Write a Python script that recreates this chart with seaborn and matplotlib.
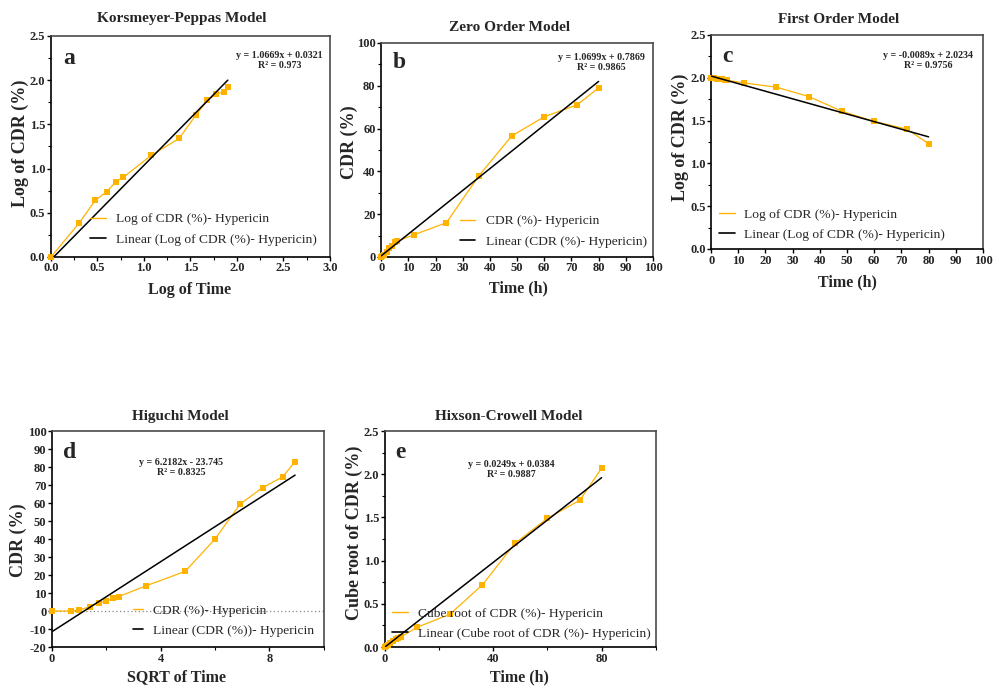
import numpy as np
import pandas as pd
import matplotlib
matplotlib.use("Agg")
import matplotlib.pyplot as plt
from matplotlib.lines import Line2D
from matplotlib.ticker import MultipleLocator, FormatStrFormatter
import seaborn as sns

# ---------------- data ----------------
time_h = [0, 0.5, 1, 2, 3, 4, 5, 6, 12, 24, 36, 48, 60, 72, 80]

# a: Korsmeyer-Peppas
kp_logt = [0.0, 0.301, 0.477, 0.602, 0.699, 0.778, 1.079, 1.380, 1.556, 1.681, 1.778, 1.857, 1.903]
kp_logcdr = [0.0, 0.38, 0.64, 0.74, 0.85, 0.90, 1.15, 1.34, 1.60, 1.77, 1.84, 1.87, 1.92]
kp_fit_x = [0.03, 1.903]
kp_fit_y = [0.0, 2.0]

# b: Zero order
zo_cdr = [0.0, 0.4, 1.0, 2.3, 4.0, 5.0, 6.8, 7.5, 10.3, 16.0, 38.0, 56.5, 65.5, 71.0, 79.0]
zo_fit_x = [0, 80]
zo_fit_y = [0.5, 82.0]

# c: First order
fo_log = [2.00, 2.00, 1.995, 1.99, 1.985, 1.98, 1.97, 1.97, 1.94, 1.89, 1.78, 1.61, 1.49, 1.40, 1.23]
fo_fit_x = [0, 80]
fo_fit_y = [2.02, 1.31]

# d: Higuchi
hg_sqrt_t = [0.0, 0.707, 1.0, 1.414, 1.732, 2.0, 2.236, 2.449, 3.464, 4.899, 6.0, 6.928, 7.746, 8.485, 8.944]
hg_cdr = [0.0, 0.0, 0.5, 2.5, 4.5, 5.5, 7.0, 8.0, 14.0, 22.0, 40.0, 59.5, 68.5, 74.5, 83.0]
hg_fit_x = [0.0, 8.944]
hg_fit_y = [-11.5, 75.5]

# e: Hixson-Crowell
hc_cube = [0.0, 0.01, 0.02, 0.05, 0.07, 0.09, 0.11, 0.12, 0.23, 0.38, 0.72, 1.20, 1.49, 1.70, 2.07]
hc_fit_x = [0, 80]
hc_fit_y = [0.0, 1.96]

titles = ["Korsmeyer-Peppas Model", "Zero Order Model", "First Order Model",
          "Higuchi Model", "Hixson-Crowell Model"]
letters = ["a", "b", "c", "d", "e"]
xlabels = ["Log of Time", "Time (h)", "Time (h)", "SQRT of Time", "Time (h)"]
ylabels = ["Log of CDR (%)", "CDR (%)", "Log of CDR (%)", "CDR (%)", "Cube root of CDR (%)"]
equations = ["y = 1.0669x + 0.0321\nR² = 0.973",
             "y = 1.0699x + 0.7869\nR² = 0.9865",
             "y = -0.0089x + 2.0234\nR² = 0.9756",
             "y = 6.2182x - 23.745\nR² = 0.8325",
             "y = 0.0249x + 0.0384\nR² = 0.9887"]
legend_data = [["Log of CDR (%)- Hypericin", "Linear (Log of CDR (%)- Hypericin)"],
               ["CDR (%)- Hypericin", "Linear (CDR (%)- Hypericin)"],
               ["Log of CDR (%)- Hypericin", "Linear (Log of CDR (%)- Hypericin)"],
               ["CDR (%)- Hypericin", "Linear (CDR (%))- Hypericin"],
               ["Cube root of CDR (%)- Hypericin", "Linear (Cube root of CDR (%)- Hypericin)"]]

# ---------------- style ----------------
sns.set_style("ticks")
plt.rcParams['font.family'] = ['Liberation Serif', 'DejaVu Serif']
plt.rcParams['axes.unicode_minus'] = False

ORANGE = "#FFB300"

fig = plt.figure(figsize=(10.03, 6.87), dpi=100)

rects = [
    [0.0508, 0.626, 0.278, 0.3217],
    [0.380, 0.626, 0.271, 0.3115],
    [0.709, 0.6376, 0.271, 0.3115],
    [0.0518, 0.0582, 0.271, 0.3144],
    [0.3838, 0.0582, 0.270, 0.3144],
]
axes = [fig.add_axes(r) for r in rects]

series = [
    (kp_logt, kp_logcdr, kp_fit_x, kp_fit_y),
    (time_h, zo_cdr, zo_fit_x, zo_fit_y),
    (time_h, fo_log, fo_fit_x, fo_fit_y),
    (hg_sqrt_t, hg_cdr, hg_fit_x, hg_fit_y),
    (time_h, hc_cube, hc_fit_x, hc_fit_y),
]

xlims = [(0, 3), (0, 100), (0, 100), (0, 10), (0, 100)]
ylims = [(0, 2.5), (0, 100), (0, 2.5), (-20, 100), (0, 2.5)]
xmaj = [0.5, 10, 10, 4, 40]
xmin = [0.25, None, None, 2, 20]
ymaj = [0.5, 20, 0.5, 10, 0.5]
ymin = [0.25, 10, 0.25, None, 0.25]

title_pos = [(0.47, 1.077), (0.474, 1.07), (0.47, 1.07), (0.474, 1.069), (0.458, 1.069)]
letter_pos = [(0.043, 0.873), (0.044, 0.883), (0.04, 0.874), (0.04, 0.875), (0.037, 0.875)]
eq_pos = [(0.82, 0.89), (0.809, 0.907), (0.798, 0.879), (0.474, 0.833), (0.465, 0.824)]
xl_pos = [(0.498, -0.149), (0.504, -0.145), (0.5, -0.154), (0.46, -0.139), (0.498, -0.139)]
yl_pos = [(-0.108, 0.516), (-0.116, 0.537), (-0.112, 0.52), (-0.125, 0.495), (-0.113, 0.53)]
leg_pos = [(0.14, 0.05), (0.29, 0.042), (0.03, 0.037), (0.298, 0.046), (0.026, 0.032)]
handle_len = [1.2, 1.15, 1.2, 0.75, 1.2]
handle_pad = [0.75, 0.8, 0.6, 0.75, 0.7]

for i, ax in enumerate(axes):
    x, y, fx, fy = series[i]
    df = pd.DataFrame({"x": x, "y": y})
    dfit = pd.DataFrame({"x": fx, "y": fy})
    if i == 3:
        ax.axhline(0, color="#888888", linestyle=(0, (1, 2)), linewidth=0.9, zorder=1)
    sns.lineplot(data=df, x="x", y="y", ax=ax, color=ORANGE, marker="s", markersize=4.8,
                 markeredgewidth=0, linewidth=0.9, sort=False, clip_on=False, zorder=3)
    sns.lineplot(data=dfit, x="x", y="y", ax=ax, color="black", linewidth=1.1,
                 sort=False, zorder=4)

    ax.set_xlim(*xlims[i])
    ax.set_ylim(*ylims[i])
    ax.xaxis.set_major_locator(MultipleLocator(xmaj[i]))
    ax.yaxis.set_major_locator(MultipleLocator(ymaj[i]))
    if xmin[i]:
        ax.xaxis.set_minor_locator(MultipleLocator(xmin[i]))
    if ymin[i]:
        ax.yaxis.set_minor_locator(MultipleLocator(ymin[i]))

    if i in (0, 2, 4):
        ax.yaxis.set_major_formatter(FormatStrFormatter('%.1f'))
    if i == 0:
        ax.xaxis.set_major_formatter(FormatStrFormatter('%.1f'))

    ax.tick_params(axis="both", which="major", direction="out", length=3.0, width=1.0,
                   labelsize=9, pad=1.0, color="black")
    ax.tick_params(axis="both", which="minor", direction="out", length=2.0, width=0.8,
                   color="black")
    for lab in ax.get_xticklabels() + ax.get_yticklabels():
        lab.set_fontweight("bold")

    for s in ["left", "bottom"]:
        ax.spines[s].set_color("black")
        ax.spines[s].set_linewidth(1.2)
    for s in ["top", "right"]:
        ax.spines[s].set_visible(True)
        ax.spines[s].set_color("#4a4a4a")
        ax.spines[s].set_linewidth(1.2)

    ax.set_title(titles[i], x=title_pos[i][0], y=title_pos[i][1], va="center", pad=0,
                 fontsize=11, fontweight="bold")
    ax.set_xlabel(xlabels[i], fontsize=11.5, fontweight="bold", va="center")
    ax.set_ylabel(ylabels[i], fontsize=13, fontweight="bold", va="center")
    ax.xaxis.set_label_coords(*xl_pos[i])
    ax.yaxis.set_label_coords(*yl_pos[i])

    ax.text(letter_pos[i][0], letter_pos[i][1], letters[i], transform=ax.transAxes,
            fontsize=17, fontweight="bold", ha="left", va="baseline")
    ax.text(eq_pos[i][0], eq_pos[i][1], equations[i], transform=ax.transAxes,
            fontsize=7.2, fontweight="bold", ha="center", va="center", linespacing=1.15)

    handles = [Line2D([0], [0], color=ORANGE, linewidth=1.0),
               Line2D([0], [0], color="black", linewidth=1.2)]
    ax.legend(handles, legend_data[i], loc="lower left", bbox_to_anchor=leg_pos[i],
              frameon=False, fontsize=9.7, handlelength=handle_len[i],
              handletextpad=handle_pad[i], labelspacing=0.6, borderaxespad=0, borderpad=0)

fig.savefig("out.png", dpi=100)
